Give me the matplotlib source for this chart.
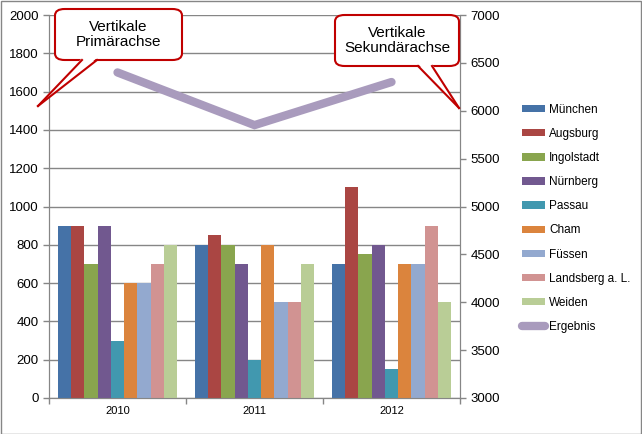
import matplotlib.pyplot as plt
import numpy as np
from matplotlib.patches import FancyBboxPatch, Polygon, Rectangle
from matplotlib.lines import Line2D

jahre = ['2010', '2011', '2012']
staedte = ['München', 'Augsburg', 'Ingolstadt', 'Nürnberg', 'Passau',
           'Cham', 'Füssen', 'Landsberg a. L.', 'Weiden']
werte = [
    [900, 800, 700],    # München
    [900, 850, 1100],   # Augsburg
    [700, 800, 750],    # Ingolstadt
    [900, 700, 800],    # Nürnberg
    [300, 200, 150],    # Passau
    [600, 800, 700],    # Cham
    [600, 500, 700],    # Füssen
    [700, 500, 900],    # Landsberg a. L.
    [800, 700, 500],    # Weiden
]
ergebnis = [6400, 5850, 6300]

farben = ['#4572A7', '#AA4643', '#89A54E', '#71588F', '#4198AF',
          '#DB843D', '#93A9CF', '#D19392', '#B9CD96']
linien_farbe = '#A99BBD'
grau = '#868686'

plt.rcParams['font.family'] = ['Liberation Sans', 'DejaVu Sans']

fig = plt.figure(figsize=(6.42, 4.34), dpi=100)
ax = fig.add_axes([49 / 642, 1 - 398 / 434, 411 / 642, 383 / 434])

x = np.arange(len(jahre))
breite = 0.0965
n = len(staedte)
for i, (stadt, w) in enumerate(zip(staedte, werte)):
    ax.bar(x + (i - (n - 1) / 2) * breite, w, breite, color=farben[i],
           label=stadt, zorder=3)

ax.set_xlim(-0.5, 2.5)
ax.set_ylim(0, 2000)
ax.set_yticks(range(0, 2001, 200))
ax.yaxis.grid(True, color=grau, linewidth=1, zorder=0)
ax.set_xticks(x)
ax.set_xticklabels(jahre, fontsize=8)
ax.tick_params(axis='x', length=0, pad=6)
ax.set_xticks([-0.5, 0.5, 1.5, 2.5], minor=True)
ax.tick_params(axis='x', which='minor', length=4, color=grau, width=1)
ax.tick_params(axis='y', length=4, color=grau, width=1, labelsize=9.5)
for s in ax.spines.values():
    s.set_color(grau)
ax.spines['top'].set_visible(False)

ax2 = ax.twinx()
ax2.plot(x, ergebnis, color=linien_farbe, linewidth=6,
         solid_capstyle='round', solid_joinstyle='miter', label='Ergebnis', zorder=4)
ax2.set_ylim(3000, 7000)
ax2.set_yticks(range(3000, 7001, 500))
ax2.tick_params(axis='y', length=4, color=grau, width=1, labelsize=9.5)
for s in ax2.spines.values():
    s.set_color(grau)
ax2.spines['top'].set_visible(False)

h1, l1 = ax.get_legend_handles_labels()
h2, l2 = ax2.get_legend_handles_labels()
fig.legend(h1 + h2, l1 + l2, loc='upper left', bbox_to_anchor=(511 / 642, 1 - 93 / 434),
           frameon=False, fontsize=8.5, labelspacing=1.03, handlelength=2.0,
           handletextpad=0.35, handleheight=0.6)

# Rahmen um die Grafik
fig.patches.append(Rectangle((0.001, 0.001), 0.997, 0.997, transform=fig.transFigure,
                             fill=False, edgecolor=grau, linewidth=1))


def callout(x0, y0, x1, y1, basis, spitze, text):
    W, H = 642, 434
    f = lambda px, py: (px / W, 1 - py / H)
    box = FancyBboxPatch(f(x0, y1), (x1 - x0) / W, (y1 - y0) / H,
                         boxstyle='round,pad=0,rounding_size=0.015',
                         transform=fig.transFigure, facecolor='white',
                         edgecolor='#C00000', linewidth=1.5, zorder=10)
    fig.patches.append(box)
    (bx1, by), (bx2, _) = basis
    tri = Polygon([f(bx1, by - 2), f(bx2, by - 2), f(*spitze)], closed=True,
                  transform=fig.transFigure, facecolor='white', edgecolor='none', zorder=11)
    fig.patches.append(tri)
    for bx in (bx1, bx2):
        p, q = f(bx, by), f(*spitze)
        fig.lines.append(Line2D([p[0], q[0]], [p[1], q[1]], transform=fig.transFigure,
                                color='#C00000', linewidth=1.5, zorder=12))
    cx, cy = f((x0 + x1) / 2, (y0 + y1) / 2)
    fig.text(cx, cy, text, ha='center', va='center', fontsize=11,
             linespacing=1.1, zorder=13)


callout(55, 9, 182, 60, [(82, 60), (97, 60)], (38, 106), 'Vertikale\nPrimärachse')
callout(335, 15, 459, 66, [(418, 66), (432, 66)], (459, 108), 'Vertikale\nSekundärachse')

fig.savefig('out.png', dpi=100)
